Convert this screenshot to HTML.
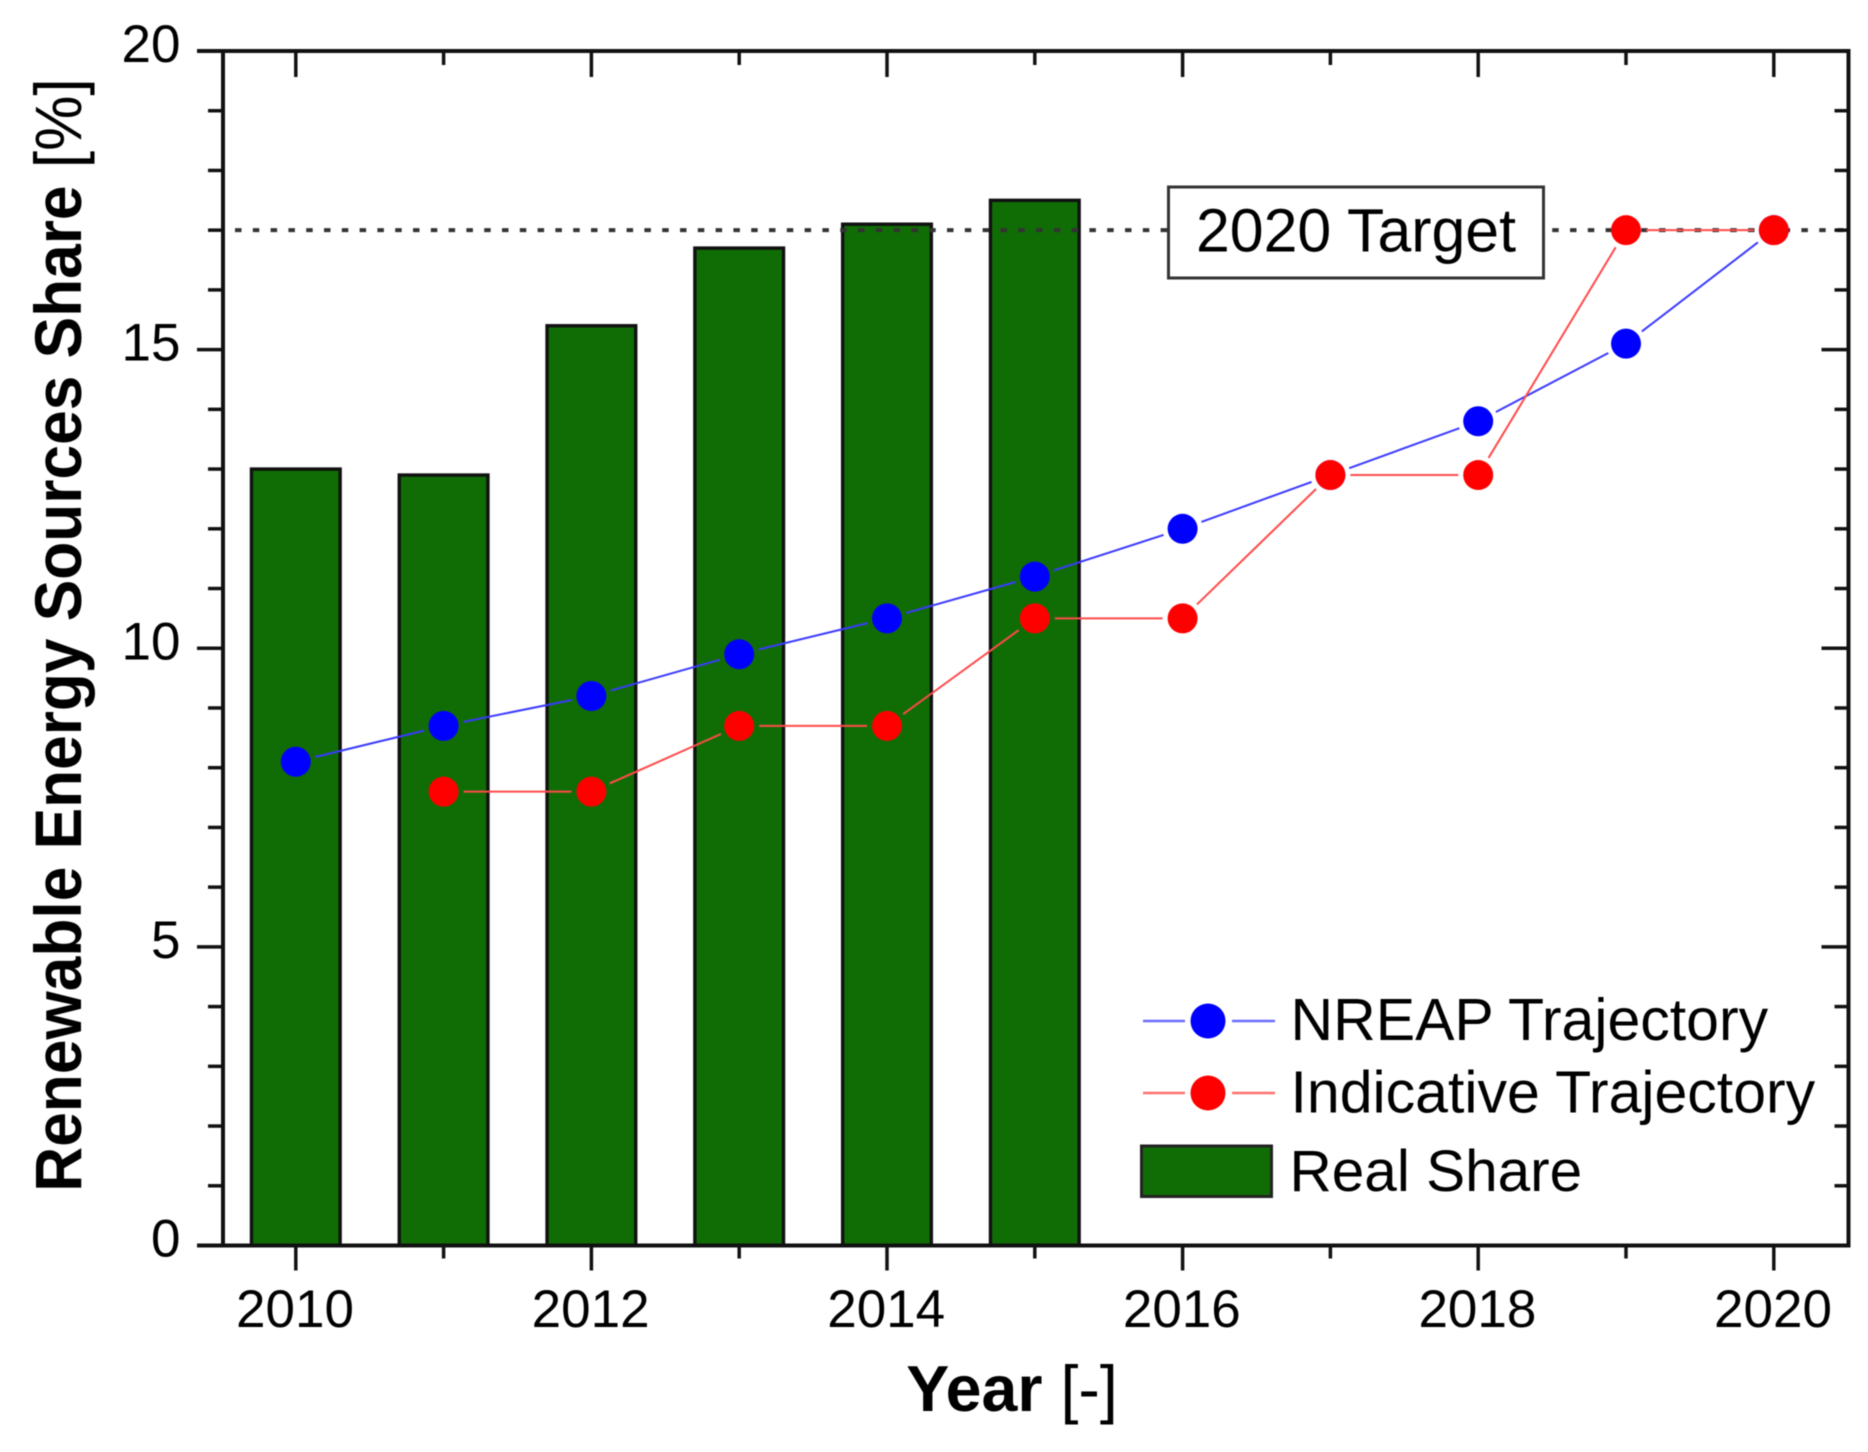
<!DOCTYPE html>
<html>
<head>
<meta charset="utf-8">
<style>
html,body{margin:0;padding:0;background:#fff;}
svg{display:block;filter:blur(0.5px);}
text{font-family:"Liberation Sans",Arial,sans-serif;fill:#000;}
</style>
</head>
<body>
<svg id="chart" xmlns="http://www.w3.org/2000/svg" width="1868" height="1452" viewBox="0 0 1868 1452"></svg>
<script>
const years = [2010, 2011, 2012, 2013, 2014, 2015, 2016, 2017, 2018, 2019, 2020];
const realShare = [13, 12.9, 15.4, 16.7, 17.1, 17.5];
const nreapTrajectory = [8.1, 8.7, 9.2, 9.9, 10.5, 11.2, 12, 12.9, 13.8, 15.1, 17];
const indicativeTrajectory = [null, 7.6, 7.6, 8.7, 8.7, 10.5, 10.5, 12.9, 12.9, 17, 17];
const targetValue = 17;
const yTickLabels = [0, 5, 10, 15, 20];
const xTickLabels = [2010, 2012, 2014, 2016, 2018, 2020];

const svg = document.getElementById('chart');
const NS = 'http://www.w3.org/2000/svg';
const L = 223, R = 1848.5, T = 51, B = 1245.5;
function xAxis(v){ return 295.8 + (v - 2010) * 147.8; }
function yAxis(v){ return B - v * (B - T) / 20; }

function make(tag, attrs, parent){
  const el = document.createElementNS(NS, tag);
  for (const k in attrs) el.setAttribute(k, attrs[k]);
  (parent || svg).appendChild(el);
  return el;
}
function group(){ return make('g', {}); }

/* bars */
const barsG = group();


realShare.forEach(function(v, i){
  const w = 0.6 * 147.8;
  const b = make('rect', {x: xAxis(years[i]) - w/2, y: yAxis(v), width: w, height: B - yAxis(v), fill: '#106d05', stroke: '#111', 'stroke-width': 3.4}, barsG);
  
  
});

/* target line */
const tl = make('line', {x1: 235, x2: R, y1: yAxis(targetValue), y2: yAxis(targetValue), stroke: '#333', 'stroke-width': 4, 'stroke-dasharray': '6.5 11.3'});



/* axes */
const axesG = group();


const frame = make('path', {d: 'M197 ' + T + 'H' + R + 'V' + B + 'H197M' + L + ' ' + T + 'V' + B, fill: 'none', stroke: '#111', 'stroke-width': 4}, axesG);


years.forEach(function(y, i){
  const x = xAxis(y), major = i % 2 === 0;
  make('line', {x1: x, x2: x, y1: B, y2: B + (major ? 25 : 13), stroke: '#111', 'stroke-width': 3.5}, axesG);
  make('line', {x1: x, x2: x, y1: T, y2: T + (major ? 26 : 14), stroke: '#111', 'stroke-width': 3.5}, axesG);
});
for (let v = 1; v < 20; v++){
  const y = yAxis(v), major = v % 5 === 0;
  make('line', {x1: L, x2: L - (major ? 26 : 15), y1: y, y2: y, stroke: '#111', 'stroke-width': 3.5}, axesG);
  make('line', {x1: R, x2: R - (major ? 27 : 14), y1: y, y2: y, stroke: '#111', 'stroke-width': 3.5}, axesG);
}
xTickLabels.forEach(function(y){
  const t = make('text', {x: xAxis(y) - 0.8, y: 1327, 'text-anchor': 'middle', 'font-size': 53});
  t.textContent = y;
  
  
});
yTickLabels.forEach(function(v){
  const t = make('text', {x: 180.5, y: yAxis(v) + 11, 'text-anchor': 'end', 'font-size': 53});
  t.textContent = v;
  
  
});

/* series */
function drawSeries(values, color, lineColor, name){
  const g = group();
  
  
  const gap = 20;
  for (let i = 0; i < values.length - 1; i++){
    if (values[i] === null || values[i+1] === null) continue;
    const x1 = xAxis(years[i]), y1 = yAxis(values[i]), x2 = xAxis(years[i+1]), y2 = yAxis(values[i+1]);
    const d = Math.hypot(x2 - x1, y2 - y1), ux = (x2 - x1) / d, uy = (y2 - y1) / d;
    make('line', {x1: x1 + ux*gap, y1: y1 + uy*gap, x2: x2 - ux*gap, y2: y2 - uy*gap, stroke: lineColor, 'stroke-width': 2}, g);
  }
  values.forEach(function(v, i){
    if (v === null) return;
    const c = make('circle', {cx: xAxis(years[i]), cy: yAxis(v), r: 15, fill: color}, g);
    
    
  });
}
drawSeries(nreapTrajectory, '#0000ff', '#3a3aff', 'nreap-series');
drawSeries(indicativeTrajectory, '#ff0000', '#ff4a4a', 'indicative-series');

/* annotation */
const boxG = group();


make('rect', {x: 1168.5, y: 187, width: 375, height: 91, fill: '#fff', stroke: '#333', 'stroke-width': 3}, boxG);
const bt = make('text', {x: 1196, y: 251.5, 'font-size': 60.8}, boxG);
bt.textContent = '2020 Target';



/* legend */
const lg = group();


[[1021, '#0000ff', '#6a6aff', 'NREAP Trajectory', 1040, 'legend-nreap'],
 [1093, '#ff0000', '#ff7070', 'Indicative Trajectory', 1112.5, 'legend-indicative']].forEach(function(e){
  make('line', {x1: 1143, x2: 1185, y1: e[0], y2: e[0], stroke: e[2], 'stroke-width': 2.5}, lg);
  make('line', {x1: 1232, x2: 1275, y1: e[0], y2: e[0], stroke: e[2], 'stroke-width': 2.5}, lg);
  make('circle', {cx: 1208, cy: e[0], r: 17.5, fill: e[1]}, lg);
  const t = make('text', {x: 1290.5, y: e[4], 'font-size': 59}, lg);
  t.textContent = e[3];
  
  
});
make('rect', {x: 1141.5, y: 1146, width: 130, height: 50.5, fill: '#106d05', stroke: '#222', 'stroke-width': 3}, lg);
const rs = make('text', {x: 1289.5, y: 1191, 'font-size': 58.5}, lg);
rs.textContent = 'Real Share';



/* axis titles */
const xt = make('text', {x: 1012, y: 1411, 'text-anchor': 'middle', 'font-size': 64.5});


const xb = make('tspan', {'font-weight': 'bold'}, xt); xb.textContent = 'Year ';
const xr = make('tspan', {}, xt); xr.textContent = '[-]';

const yt = make('text', {x: 0, y: 0, 'text-anchor': 'middle', 'font-size': 66, transform: 'translate(81 635) rotate(-90) scale(0.943 1)'});


const yb = make('tspan', {'font-weight': 'bold'}, yt); yb.textContent = 'Renewable Energy Sources Share ';
const yr = make('tspan', {}, yt); yr.textContent = '[%]';
</script>
</body>
</html>
